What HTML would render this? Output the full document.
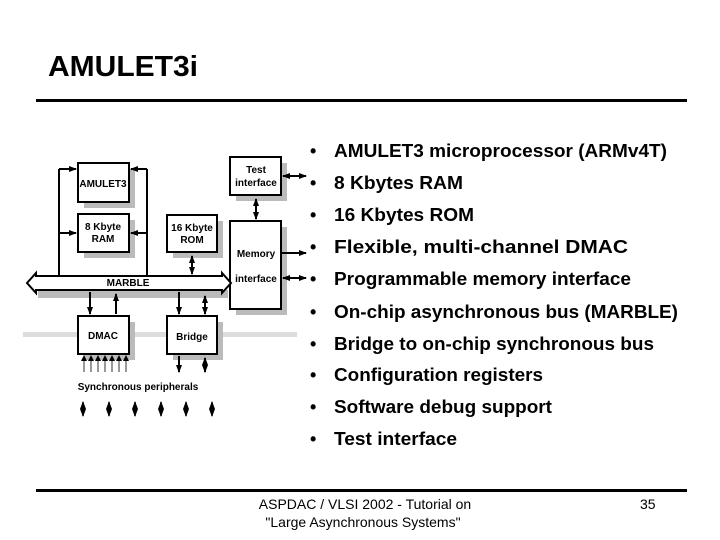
<!DOCTYPE html>
<html><head><meta charset="utf-8"><style>
html,body{margin:0;padding:0;background:#fff;}
svg{display:block;}
text{font-family:"Liberation Sans",Arial,sans-serif;}
</style></head><body>
<svg width="720" height="540" viewBox="0 0 720 540" xmlns="http://www.w3.org/2000/svg">
<defs>
<marker id="a" markerWidth="8" markerHeight="8" refX="7" refY="4" orient="auto" markerUnits="userSpaceOnUse"><path d="M0,1 L8,4 L0,7 Z" fill="#000"/></marker>
<marker id="s" markerWidth="8" markerHeight="8" refX="1" refY="4" orient="auto" markerUnits="userSpaceOnUse"><path d="M8,1 L0,4 L8,7 Z" fill="#000"/></marker>
</defs>
<text x="48" y="76" font-size="29" font-weight="bold" textLength="150" lengthAdjust="spacingAndGlyphs">AMULET3i</text>
<rect x="36" y="99" width="651" height="3" fill="#000"/>
<rect x="36" y="489" width="651" height="3" fill="#000"/>
<text x="365" y="509" font-size="14" text-anchor="middle">ASPDAC / VLSI 2002 - Tutorial on</text>
<text x="363" y="527" font-size="14" text-anchor="middle">"Large Asynchronous Systems"</text>
<text x="640" y="509" font-size="14">35</text>

<rect x="23" y="332" width="274" height="5" fill="#ddd"/>
<g fill="#bbb">
<rect x="84" y="169" width="51" height="39"/>
<rect x="84" y="220" width="51" height="38"/>
<rect x="173" y="221" width="50" height="37"/>
<rect x="236" y="163" width="51" height="38"/>
<rect x="236" y="227" width="51" height="88"/>
<rect x="84" y="322" width="51" height="38"/>
<rect x="173" y="322" width="50" height="38"/>
<rect x="38" y="290" width="190" height="8"/>
</g>
<g fill="#fff" stroke="#000" stroke-width="2">
<rect x="78" y="163" width="51" height="39"/>
<rect x="78" y="214" width="51" height="38"/>
<rect x="167" y="215" width="50" height="37"/>
<rect x="230" y="157" width="51" height="38"/>
<rect x="230" y="221" width="51" height="88"/>
<rect x="78" y="316" width="51" height="38"/>
<rect x="167" y="316" width="50" height="38"/>
<path d="M27,283 L36,273 L36,276 L222,276 L222,273 L231,283 L222,293 L222,290 L36,290 L36,293 Z"/>
</g>
<g font-size="10" font-weight="bold" text-anchor="middle">
<text x="103" y="187">AMULET3</text>
<text x="103" y="230">8 Kbyte</text><text x="103" y="242">RAM</text>
<text x="192" y="231">16 Kbyte</text><text x="192" y="243">ROM</text>
<text x="256" y="173">Test</text><text x="256" y="186">interface</text>
<text x="256" y="257">Memory</text><text x="256" y="282">interface</text>
<text x="128" y="286">MARBLE</text>
<text x="103" y="339">DMAC</text>
<text x="192" y="340">Bridge</text>
<text x="138" y="390" font-size="10">Synchronous peripherals</text>
</g>
<g stroke="#000" stroke-width="2" fill="none">
<line x1="59" y1="169" x2="59" y2="276"/>
<line x1="59" y1="169" x2="76" y2="169" marker-end="url(#a)"/>
<line x1="59" y1="233" x2="76" y2="233" marker-end="url(#a)"/>
<line x1="147" y1="169" x2="147" y2="276"/>
<line x1="147" y1="169" x2="131" y2="169" marker-end="url(#a)"/>
<line x1="147" y1="233" x2="131" y2="233" marker-end="url(#a)"/>
<line x1="192" y1="256" x2="192" y2="274" marker-start="url(#s)" marker-end="url(#a)"/>
<line x1="256" y1="199" x2="256" y2="219" marker-start="url(#s)" marker-end="url(#a)"/>
<line x1="283" y1="176" x2="306" y2="176" marker-start="url(#s)" marker-end="url(#a)"/>
<line x1="281" y1="253" x2="306" y2="253" marker-end="url(#a)"/>
<line x1="283" y1="278" x2="306" y2="278" marker-start="url(#s)" marker-end="url(#a)"/>
<line x1="90" y1="292" x2="90" y2="314" marker-end="url(#a)"/>
<line x1="116" y1="314" x2="116" y2="294" marker-end="url(#a)"/>
<line x1="179" y1="292" x2="179" y2="314" marker-end="url(#a)"/>
<line x1="205" y1="296" x2="205" y2="314" marker-start="url(#s)" marker-end="url(#a)"/>
<line x1="179" y1="356" x2="179" y2="372" marker-end="url(#a)"/>
<line x1="205" y1="358" x2="205" y2="372" marker-start="url(#s)" marker-end="url(#a)"/>
</g>
<g stroke="#777" stroke-width="1.5">
<line x1="84" y1="358" x2="84" y2="372"/><line x1="91" y1="358" x2="91" y2="372"/>
<line x1="98" y1="358" x2="98" y2="372"/><line x1="105" y1="358" x2="105" y2="372"/>
<line x1="112" y1="358" x2="112" y2="372"/><line x1="119" y1="358" x2="119" y2="372"/>
<line x1="126" y1="358" x2="126" y2="372"/>
</g>
<g fill="#000">
<path d="M81,361 L84,355 L87,361Z"/><path d="M88,361 L91,355 L94,361Z"/><path d="M95,361 L98,355 L101,361Z"/>
<path d="M102,361 L105,355 L108,361Z"/><path d="M109,361 L112,355 L115,361Z"/><path d="M116,361 L119,355 L122,361Z"/>
<path d="M123,361 L126,355 L129,361Z"/>
</g>
<g stroke="#000" stroke-width="1.5">
<line x1="83" y1="402" x2="83" y2="416" marker-start="url(#s)" marker-end="url(#a)"/>
<line x1="109" y1="402" x2="109" y2="416" marker-start="url(#s)" marker-end="url(#a)"/>
<line x1="135" y1="402" x2="135" y2="416" marker-start="url(#s)" marker-end="url(#a)"/>
<line x1="161" y1="402" x2="161" y2="416" marker-start="url(#s)" marker-end="url(#a)"/>
<line x1="186" y1="402" x2="186" y2="416" marker-start="url(#s)" marker-end="url(#a)"/>
<line x1="212" y1="402" x2="212" y2="416" marker-start="url(#s)" marker-end="url(#a)"/>
</g>

<g font-size="18" font-weight="bold" lengthAdjust="spacingAndGlyphs">
<text x="310" y="157">•</text><text x="334" y="157" textLength="333" lengthAdjust="spacingAndGlyphs">AMULET3 microprocessor (ARMv4T)</text>
<text x="310" y="189">•</text><text x="334" y="189" textLength="129" lengthAdjust="spacingAndGlyphs">8 Kbytes RAM</text>
<text x="310" y="221">•</text><text x="334" y="221" textLength="140" lengthAdjust="spacingAndGlyphs">16 Kbytes ROM</text>
<text x="310" y="253">•</text><text x="334" y="253" textLength="294" lengthAdjust="spacingAndGlyphs">Flexible, multi-channel DMAC</text>
<text x="310" y="285">•</text><text x="334" y="285" textLength="297" lengthAdjust="spacingAndGlyphs">Programmable memory interface</text>
<text x="310" y="318">•</text><text x="334" y="318" textLength="344" lengthAdjust="spacingAndGlyphs">On-chip asynchronous bus (MARBLE)</text>
<text x="310" y="350">•</text><text x="334" y="350" textLength="320" lengthAdjust="spacingAndGlyphs">Bridge to on-chip synchronous bus</text>
<text x="310" y="381">•</text><text x="334" y="381" textLength="209" lengthAdjust="spacingAndGlyphs">Configuration registers</text>
<text x="310" y="413">•</text><text x="334" y="413" textLength="218" lengthAdjust="spacingAndGlyphs">Software debug support</text>
<text x="310" y="445">•</text><text x="334" y="445" textLength="123" lengthAdjust="spacingAndGlyphs">Test interface</text>
</g>
</svg>
</body></html>
